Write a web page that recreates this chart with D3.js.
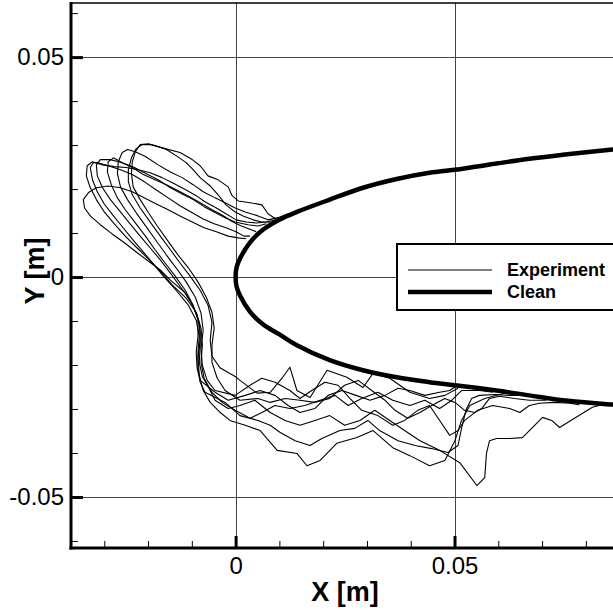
<!DOCTYPE html>
<html>
<head>
<meta charset="utf-8">
<script src="https://cdn.jsdelivr.net/npm/d3@7"></script>
<style>
  body { margin: 0; background: #fff; }
  #chart { width: 613px; height: 610px; }
  text { font-family: "Liberation Sans", Arial, sans-serif; }
</style>
</head>
<body>
<div id="chart"></div>
<script>
// values in metres

let cleanUpper = [[0.0877,0.0292],[0.0861,0.0290],[0.0747,0.0278],[0.0671,0.0269],[0.0596,0.0258],[0.0501,0.0244],[0.0443,0.0237],[0.0368,0.0223],[0.0291,0.0203],[0.0215,0.0176],[0.0140,0.0148],[0.0101,0.0131],[0.0063,0.0108],[0.0033,0.0079],[0.0010,0.0042],[0.0002,0.0021],[0,0]]
let cleanLower = [[0,0],[0.0002,-0.0021],[0.0010,-0.0042],[0.0033,-0.0079],[0.0063,-0.0108],[0.0101,-0.0131],[0.0140,-0.0155],[0.0215,-0.0189],[0.0291,-0.0212],[0.0368,-0.0228],[0.0443,-0.0239],[0.0501,-0.0246],[0.0596,-0.0258],[0.0671,-0.0269],[0.0747,-0.0280],[0.0861,-0.0290],[0.0877,-0.0292]]

let trace1 = [[0.0092,0.0132],[0.0074,0.0144],[0.0060,0.0164],[0.0033,0.0169],[0.0006,0.0173],[-0.0008,0.0185],[-0.0017,0.0205],[-0.0040,0.0221],[-0.0063,0.0230],[-0.0081,0.0253],[-0.0099,0.0267],[-0.0127,0.0283],[-0.0161,0.0292],[-0.0195,0.0301],[-0.0213,0.0301],[-0.0227,0.0292],[-0.0238,0.0271],[-0.0245,0.0244],[-0.0245,0.0217],[-0.0236,0.0187],[-0.0218,0.0157],[-0.0195,0.0125],[-0.0172,0.0093],[-0.0149,0.0062],[-0.0127,0.0032],[-0.0104,0.0002],[-0.0081,-0.0030],[-0.0063,-0.0064],[-0.0054,-0.0103],[-0.0058,-0.0144],[-0.0054,-0.0180],[-0.0035,-0.0207],[-0.0001,-0.0226],[0.0010,-0.0235],[0.0049,-0.0264],[0.0079,-0.0262],[0.0106,-0.0230],[0.0124,-0.0205],[0.0140,-0.0258],[0.0170,-0.0274],[0.0209,-0.0212],[0.0254,-0.0228],[0.0291,-0.0251],[0.0314,-0.0219],[0.0352,-0.0230],[0.0398,-0.0262],[0.0443,-0.0276],[0.0478,-0.0269],[0.0508,-0.0253]]
let trace2 = [[0.0079,0.0125],[0.0060,0.0125],[0.0040,0.0130],[0.0017,0.0139],[-0.0001,0.0148],[-0.0022,0.0164],[-0.0040,0.0187],[-0.0058,0.0207],[-0.0081,0.0226],[-0.0097,0.0244],[-0.0113,0.0260],[-0.0136,0.0276],[-0.0158,0.0290],[-0.0184,0.0299],[-0.0199,0.0303],[-0.0218,0.0301],[-0.0229,0.0285],[-0.0236,0.0262],[-0.0238,0.0235],[-0.0234,0.0205],[-0.0218,0.0176],[-0.0199,0.0146],[-0.0179,0.0116],[-0.0156,0.0084],[-0.0133,0.0052],[-0.0108,0.0021],[-0.0086,-0.0011],[-0.0067,-0.0046],[-0.0054,-0.0080],[-0.0049,-0.0116],[-0.0054,-0.0155],[-0.0054,-0.0194],[-0.0042,-0.0230],[-0.0024,-0.0258],[0.0010,-0.0280],[0.0051,-0.0276],[0.0079,-0.0285],[0.0113,-0.0276],[0.0147,-0.0280],[0.0181,-0.0285],[0.0215,-0.0276],[0.0249,-0.0246],[0.0280,-0.0235],[0.0311,-0.0258],[0.0341,-0.0280],[0.0364,-0.0303],[0.0393,-0.0321],[0.0421,-0.0308],[0.0448,-0.0292],[0.0478,-0.0276],[0.0501,-0.0285],[0.0523,-0.0303],[0.0546,-0.0308],[0.0562,-0.0299],[0.0580,-0.0276],[0.0603,-0.0271],[0.0637,-0.0276],[0.0671,-0.0280],[0.0710,-0.0280]]
let trace3 = [[0.0120,0.0144],[0.0097,0.0135],[0.0074,0.0130],[0.0051,0.0139],[0.0022,0.0148],[-0.0001,0.0157],[-0.0024,0.0169],[-0.0047,0.0180],[-0.0074,0.0194],[-0.0097,0.0210],[-0.0122,0.0226],[-0.0149,0.0239],[-0.0177,0.0255],[-0.0206,0.0274],[-0.0229,0.0285],[-0.0247,0.0290],[-0.0259,0.0283],[-0.0268,0.0262],[-0.0270,0.0235],[-0.0263,0.0205],[-0.0247,0.0176],[-0.0227,0.0146],[-0.0204,0.0114],[-0.0181,0.0082],[-0.0158,0.0050],[-0.0136,0.0021],[-0.0113,-0.0011],[-0.0092,-0.0046],[-0.0079,-0.0082],[-0.0074,-0.0121],[-0.0079,-0.0162],[-0.0076,-0.0201],[-0.0065,-0.0235],[-0.0047,-0.0258],[-0.0001,-0.0269],[0.0033,-0.0246],[0.0060,-0.0230],[0.0090,-0.0239],[0.0124,-0.0258],[0.0147,-0.0276],[0.0174,-0.0258],[0.0204,-0.0239],[0.0234,-0.0246],[0.0261,-0.0276],[0.0288,-0.0303],[0.0325,-0.0315],[0.0359,-0.0337],[0.0386,-0.0326],[0.0416,-0.0303],[0.0443,-0.0292],[0.0466,-0.0326],[0.0489,-0.0360],[0.0508,-0.0349],[0.0523,-0.0326],[0.0553,-0.0303],[0.0587,-0.0292],[0.0626,-0.0299],[0.0649,-0.0308],[0.0671,-0.0292],[0.0694,-0.0287],[0.0728,-0.0285],[0.0763,-0.0287],[0.0785,-0.0290]]
let trace4 = [[0.0047,0.0103],[0.0031,0.0109],[0.0013,0.0116],[-0.0006,0.0125],[-0.0031,0.0141],[-0.0054,0.0153],[-0.0081,0.0169],[-0.0104,0.0182],[-0.0131,0.0196],[-0.0158,0.0210],[-0.0184,0.0221],[-0.0211,0.0233],[-0.0236,0.0249],[-0.0259,0.0260],[-0.0279,0.0271],[-0.0291,0.0262],[-0.0293,0.0239],[-0.0284,0.0210],[-0.0270,0.0180],[-0.0252,0.0153],[-0.0229,0.0123],[-0.0206,0.0093],[-0.0184,0.0062],[-0.0161,0.0032],[-0.0138,0.0002],[-0.0115,-0.0030],[-0.0097,-0.0064],[-0.0086,-0.0098],[-0.0086,-0.0135],[-0.0090,-0.0171],[-0.0088,-0.0207],[-0.0081,-0.0235],[-0.0047,-0.0262],[-0.0017,-0.0280],[0.0022,-0.0269],[0.0056,-0.0258],[0.0090,-0.0269],[0.0120,-0.0292],[0.0147,-0.0308],[0.0181,-0.0299],[0.0211,-0.0269],[0.0243,-0.0258],[0.0275,-0.0269],[0.0307,-0.0280],[0.0341,-0.0269],[0.0371,-0.0253],[0.0398,-0.0258],[0.0432,-0.0269],[0.0466,-0.0262],[0.0489,-0.0258],[0.0503,-0.0249]]
let trace5 = [[0.0033,0.0093],[0.0019,0.0093],[0.0001,0.0103],[-0.0022,0.0112],[-0.0049,0.0121],[-0.0074,0.0132],[-0.0099,0.0146],[-0.0127,0.0162],[-0.0154,0.0180],[-0.0181,0.0198],[-0.0209,0.0217],[-0.0236,0.0233],[-0.0263,0.0244],[-0.0291,0.0253],[-0.0314,0.0260],[-0.0325,0.0260],[-0.0332,0.0249],[-0.0327,0.0221],[-0.0316,0.0194],[-0.0300,0.0166],[-0.0279,0.0139],[-0.0257,0.0112],[-0.0234,0.0084],[-0.0211,0.0057],[-0.0188,0.0030],[-0.0165,0.0002],[-0.0136,-0.0030],[-0.0108,-0.0064],[-0.0090,-0.0098],[-0.0083,-0.0135],[-0.0086,-0.0171],[-0.0086,-0.0207],[-0.0081,-0.0239],[-0.0070,-0.0262],[-0.0024,-0.0285],[0.0010,-0.0315],[0.0051,-0.0326],[0.0079,-0.0337],[0.0101,-0.0353],[0.0136,-0.0372],[0.0170,-0.0383],[0.0197,-0.0367],[0.0238,-0.0349],[0.0272,-0.0344],[0.0302,-0.0326],[0.0329,-0.0349],[0.0371,-0.0372],[0.0410,-0.0383],[0.0448,-0.0390],[0.0485,-0.0399],[0.0508,-0.0383],[0.0516,-0.0344],[0.0526,-0.0303],[0.0539,-0.0276],[0.0557,-0.0269],[0.0592,-0.0267],[0.0626,-0.0269],[0.0649,-0.0269]]
let trace6 = [[0.0070,0.0121],[0.0051,0.0116],[0.0028,0.0119],[-0.0001,0.0125],[-0.0024,0.0135],[-0.0049,0.0148],[-0.0072,0.0160],[-0.0097,0.0176],[-0.0122,0.0189],[-0.0149,0.0203],[-0.0177,0.0221],[-0.0204,0.0235],[-0.0231,0.0249],[-0.0259,0.0260],[-0.0286,0.0267],[-0.0309,0.0267],[-0.0318,0.0255],[-0.0316,0.0230],[-0.0304,0.0203],[-0.0286,0.0176],[-0.0263,0.0148],[-0.0241,0.0121],[-0.0218,0.0093],[-0.0195,0.0066],[-0.0172,0.0039],[-0.0149,0.0009],[-0.0127,-0.0021],[-0.0104,-0.0052],[-0.0088,-0.0087],[-0.0081,-0.0121],[-0.0081,-0.0157],[-0.0083,-0.0194],[-0.0076,-0.0226],[-0.0058,-0.0258],[-0.0047,-0.0280],[-0.0017,-0.0299],[0.0010,-0.0292],[0.0044,-0.0280],[0.0079,-0.0308],[0.0113,-0.0326],[0.0147,-0.0337],[0.0181,-0.0326],[0.0215,-0.0315],[0.0249,-0.0337],[0.0284,-0.0326],[0.0318,-0.0303],[0.0352,-0.0326],[0.0386,-0.0349],[0.0421,-0.0372],[0.0466,-0.0394],[0.0512,-0.0422],[0.0551,-0.0474],[0.0569,-0.0456],[0.0573,-0.0401],[0.0580,-0.0372],[0.0596,-0.0367],[0.0626,-0.0367],[0.0655,-0.0365],[0.0683,-0.0337],[0.0701,-0.0319],[0.0722,-0.0326],[0.0740,-0.0342],[0.0774,-0.0321],[0.0815,-0.0296],[0.0837,-0.0290]]
let trace7 = [[0.0024,0.0087],[0.0006,0.0089],[-0.0017,0.0093],[-0.0044,0.0103],[-0.0072,0.0112],[-0.0099,0.0125],[-0.0127,0.0139],[-0.0154,0.0153],[-0.0181,0.0166],[-0.0209,0.0180],[-0.0236,0.0194],[-0.0263,0.0203],[-0.0291,0.0207],[-0.0318,0.0203],[-0.0336,0.0192],[-0.0348,0.0176],[-0.0345,0.0157],[-0.0332,0.0139],[-0.0309,0.0119],[-0.0282,0.0098],[-0.0254,0.0078],[-0.0227,0.0057],[-0.0199,0.0036],[-0.0172,0.0016],[-0.0149,-0.0007],[-0.0117,-0.0034],[-0.0097,-0.0066],[-0.0083,-0.0103],[-0.0081,-0.0144],[-0.0086,-0.0185],[-0.0083,-0.0223],[-0.0074,-0.0258],[-0.0058,-0.0285],[-0.0035,-0.0308],[-0.0013,-0.0326],[0.0022,-0.0337],[0.0056,-0.0349],[0.0095,-0.0394],[0.0140,-0.0401],[0.0163,-0.0429],[0.0193,-0.0417],[0.0231,-0.0378],[0.0277,-0.0365],[0.0314,-0.0349],[0.0359,-0.0388],[0.0398,-0.0406],[0.0443,-0.0429],[0.0478,-0.0417],[0.0501,-0.0372],[0.0516,-0.0326],[0.0535,-0.0292],[0.0569,-0.0276],[0.0614,-0.0264]]
let trace8 = [[0.0113,0.0139],[0.0092,0.0130],[0.0070,0.0125],[0.0047,0.0123],[0.0024,0.0125],[0.0001,0.0130],[-0.0022,0.0144],[-0.0044,0.0157],[-0.0070,0.0171],[-0.0090,0.0185],[-0.0113,0.0198],[-0.0140,0.0212],[-0.0168,0.0226],[-0.0195,0.0237],[-0.0222,0.0244],[-0.0250,0.0249],[-0.0277,0.0251],[-0.0304,0.0255],[-0.0327,0.0262],[-0.0339,0.0253],[-0.0341,0.0230],[-0.0332,0.0203],[-0.0318,0.0176],[-0.0300,0.0148],[-0.0277,0.0121],[-0.0252,0.0093],[-0.0225,0.0066],[-0.0197,0.0039],[-0.0170,0.0011],[-0.0145,-0.0018],[-0.0113,-0.0048],[-0.0090,-0.0080],[-0.0079,-0.0116],[-0.0076,-0.0155],[-0.0079,-0.0194],[-0.0072,-0.0230],[-0.0054,-0.0262],[-0.0031,-0.0285],[-0.0001,-0.0303],[0.0033,-0.0321],[0.0060,-0.0308],[0.0090,-0.0292],[0.0124,-0.0299],[0.0158,-0.0292],[0.0193,-0.0280],[0.0227,-0.0269],[0.0257,-0.0292],[0.0288,-0.0276],[0.0325,-0.0262],[0.0359,-0.0280],[0.0398,-0.0292],[0.0432,-0.0280],[0.0466,-0.0299],[0.0494,-0.0280],[0.0516,-0.0258],[0.0557,-0.0258],[0.0587,-0.0262]]

let experiment = [trace1, trace2, trace3, trace4, trace5, trace6, trace7, trace8]

let xMajor = [0, 0.05]
let xMinor = [-0.03, -0.02, -0.01, 0.01, 0.02, 0.03, 0.04, 0.06, 0.07, 0.08]
let yMajor = [-0.05, 0, 0.05]
let yMinor = [-0.06, -0.04, -0.03, -0.02, -0.01, 0.01, 0.02, 0.03, 0.04, 0.06]
let tickLabels = {'-0.05': '-0.05', '0': '0', '0.05': '0.05'}
let legendItems = ['Experiment', 'Clean']

let width = 613, height = 610
let plotLeft = 71, plotRight = 613, plotTop = 3, plotBottom = 548

let svg = d3.select('#chart').append('svg')
  .attr('width', width).attr('height', height)

let x = d3.scaleLinear().domain([-0.0376, 0.0862]).range([plotLeft, plotRight])
let y = d3.scaleLinear().domain([-0.0616, 0.0623]).range([plotBottom, plotTop])

svg.append('clipPath').attr('id', 'plot')
  .append('rect').attr('x', plotLeft).attr('y', plotTop)
  .attr('width', plotRight - plotLeft + 5).attr('height', plotBottom - plotTop)

// grid at major ticks
let grid = svg.append('g').attr('stroke', '#444').attr('stroke-width', 1)
xMajor.forEach(function(v) {
  let px = Math.round(x(v)) + 0.5
  grid.append('line').attr('x1', px).attr('x2', px).attr('y1', plotTop).attr('y2', plotBottom)
})
yMajor.forEach(function(v) {
  let py = Math.round(y(v)) + 0.5
  grid.append('line').attr('x1', plotLeft).attr('x2', plotRight + 5).attr('y1', py).attr('y2', py)
})

let line = d3.line()
  .x(function(d) { return x(d[0]) })
  .y(function(d) { return y(d[1]) })

let plot = svg.append('g').attr('clip-path', 'url(#plot)')

plot.selectAll('path.exp')
  .data(experiment)
  .enter()
    .append('path')
      .attr('class', 'exp')
      .attr('d', line.curve(d3.curveLinear))
      .attr('fill', 'none')
      .attr('stroke', '#000')
      .attr('stroke-width', 1.1)
      .attr('stroke-linejoin', 'round')

plot.append('path')
  .attr('d', line.curve(d3.curveCatmullRom.alpha(0.5))(cleanUpper.concat(cleanLower.slice(1))))
  .attr('fill', 'none')
  .attr('stroke', '#000')
  .attr('stroke-width', 4.5)

// legend
let lg = svg.append('g')
lg.append('rect')
  .attr('x', 397).attr('y', 244).attr('width', 230).attr('height', 66)
  .attr('fill', '#fff').attr('stroke', '#000').attr('stroke-width', 2)
legendItems.forEach(function(name, i) {
  let ly = 270 + i * 22
  lg.append('line')
    .attr('x1', 408).attr('x2', 492).attr('y1', ly).attr('y2', ly)
    .attr('stroke', '#000').attr('stroke-width', i == 0 ? 1.1 : 4.5)
  lg.append('text')
    .attr('x', 507).attr('y', ly + 6)
    .attr('font-size', 18).attr('font-weight', 'bold')
    .text(name)
})

// axes with inward ticks
function fmt(d) { return tickLabels[String(d)] }

let xAxis = svg.append('g').attr('transform', 'translate(0,' + plotBottom + ')')
  .call(d3.axisBottom(x).tickValues(xMajor).tickSizeInner(-12).tickSizeOuter(0).tickPadding(9).tickFormat(fmt))
xAxis.select('.domain').remove()
xAxis.selectAll('line').attr('stroke-width', 3)
xAxis.selectAll('text').attr('font-size', 24).attr('fill', '#000').attr('font-family', '"Liberation Sans", Arial, sans-serif')
svg.append('g').attr('transform', 'translate(0,' + plotBottom + ')')
  .call(d3.axisBottom(x).tickValues(xMinor).tickSizeInner(-7).tickSizeOuter(0).tickFormat(''))
  .select('.domain').remove()

let yAxis = svg.append('g').attr('transform', 'translate(' + plotLeft + ',0)')
  .call(d3.axisLeft(y).tickValues(yMajor).tickSizeInner(-12).tickSizeOuter(0).tickPadding(7).tickFormat(fmt))
yAxis.select('.domain').remove()
yAxis.selectAll('line').attr('stroke-width', 3)
yAxis.selectAll('text').attr('font-size', 24).attr('fill', '#000').attr('font-family', '"Liberation Sans", Arial, sans-serif')
svg.append('g').attr('transform', 'translate(' + plotLeft + ',0)')
  .call(d3.axisLeft(y).tickValues(yMinor).tickSizeInner(-7).tickSizeOuter(0).tickFormat(''))
  .select('.domain').remove()

// frame
svg.append('line').attr('x1', plotLeft).attr('x2', plotLeft).attr('y1', plotTop - 1).attr('y2', plotBottom + 1.5)
  .attr('stroke', '#000').attr('stroke-width', 3)
svg.append('line').attr('x1', plotLeft - 1.5).attr('x2', plotRight + 5).attr('y1', plotBottom).attr('y2', plotBottom)
  .attr('stroke', '#000').attr('stroke-width', 3)
svg.append('line').attr('x1', plotLeft).attr('x2', plotRight + 5).attr('y1', plotTop).attr('y2', plotTop)
  .attr('stroke', '#000').attr('stroke-width', 1.5)

svg.append('text')
  .attr('x', 345).attr('y', 601)
  .attr('text-anchor', 'middle').attr('font-size', 27).attr('font-weight', 'bold')
  .text('X [m]')

svg.append('text')
  .attr('transform', 'translate(44,271) rotate(-90)')
  .attr('text-anchor', 'middle').attr('font-size', 27).attr('font-weight', 'bold')
  .text('Y [m]')
</script>
</body>
</html>
